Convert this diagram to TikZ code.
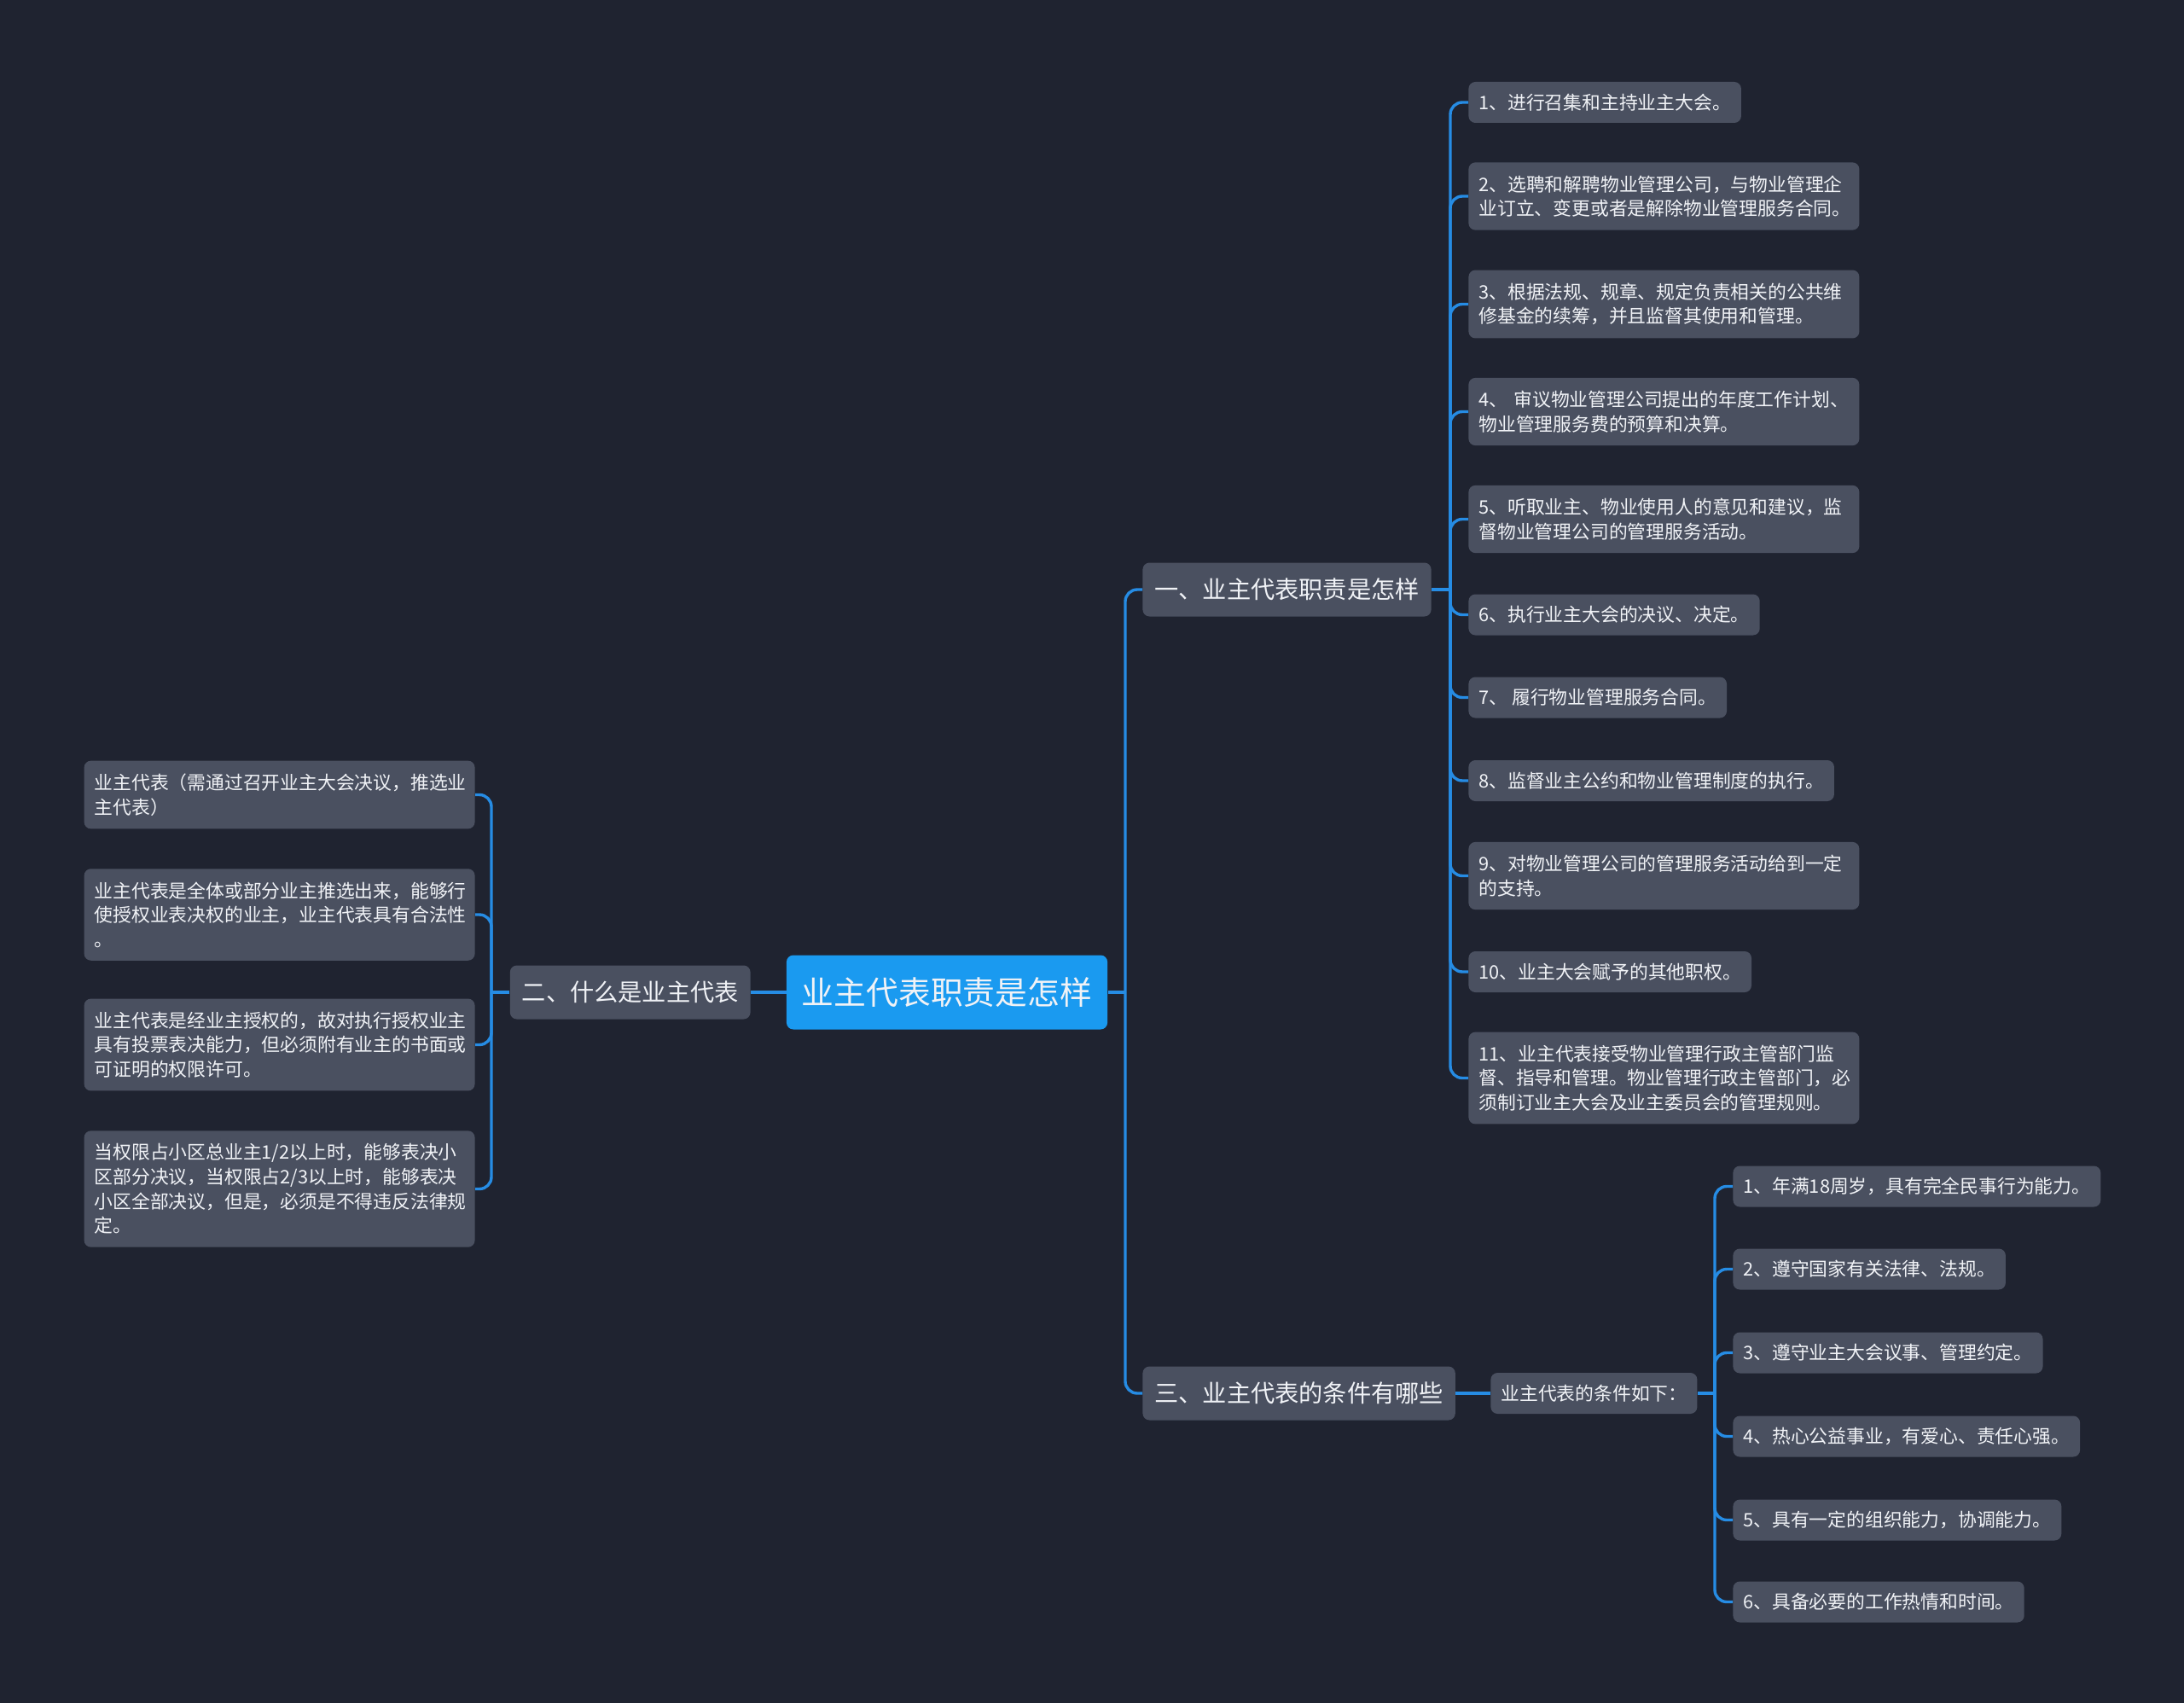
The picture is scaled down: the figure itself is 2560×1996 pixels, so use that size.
\documentclass[tikz,border=0pt]{standalone}
\usepackage{fontspec}
\setmainfont{Noto Sans CJK SC}
\usetikzlibrary{positioning}

\definecolor{bgcol}{RGB}{31,35,48}
\definecolor{boxcol}{RGB}{74,80,96}
\definecolor{rootcol}{RGB}{26,154,240}
\definecolor{linecol}{RGB}{38,140,228}
\definecolor{txtcol}{RGB}{240,242,246}

\begin{document}
\begin{tikzpicture}[x=0.5pt, y=-0.5pt,
    box/.style={fill=boxcol, rounded corners=4pt, text=txtcol, inner xsep=6pt, inner ysep=6pt, align=left},
    item/.style={box, font=\fontsize{10.9}{14.3}\selectfont, minimum height=24pt},
    wide/.style={item, text width=217pt, inner ysep=7.6pt},
    topic/.style={box, inner xsep=7pt, font=\fontsize{14.1}{17}\selectfont, minimum height=31.5pt},
    rootbox/.style={box, fill=rootcol, inner xsep=9pt, font=\fontsize{18.9}{22}\selectfont, minimum height=43.5pt},
    link/.style={draw=linecol, line width=1.7pt, rounded corners=7pt}]
        \fill[bgcol] (0,0) rectangle (2560,1996);

        % centre and main topics
        \node[rootbox] (root) at (1110,1163) {业主代表职责是怎样};
        \node[topic, anchor=west] (one) at (1339,691) {一、业主代表职责是怎样};
        \node[topic, anchor=east] (two) at (880,1163) {二、什么是业主代表};
        \node[topic, anchor=west] (three) at (1339,1633) {三、业主代表的条件有哪些};
        \node[item, anchor=west] (cond) at (1747,1633) {业主代表的条件如下：};

        % duties
        \node[item, anchor=west] (r1) at (1721,120) {1、进行召集和主持业主大会。};
        \node[wide, anchor=west] (r2) at (1721,230) {2、选聘和解聘物业管理公司，与物业管理企\\业订立、变更或者是解除物业管理服务合同。};
        \node[wide, anchor=west] (r3) at (1721,356.5) {3、根据法规、规章、规定负责相关的公共维\\修基金的续筹，并且监督其使用和管理。};
        \node[wide, anchor=west] (r4) at (1721,482.5) {4、 审议物业管理公司提出的年度工作计划、\\物业管理服务费的预算和决算。};
        \node[wide, anchor=west] (r5) at (1721,608.5) {5、听取业主、物业使用人的意见和建议，监\\督物业管理公司的管理服务活动。};
        \node[item, anchor=west] (r6) at (1721,720.5) {6、执行业主大会的决议、决定。};
        \node[item, anchor=west] (r7) at (1721,817.5) {7、 履行物业管理服务合同。};
        \node[item, anchor=west] (r8) at (1721,915) {8、监督业主公约和物业管理制度的执行。};
        \node[wide, anchor=west] (r9) at (1721,1026.5) {9、对物业管理公司的管理服务活动给到一定\\的支持。};
        \node[item, anchor=west] (r10) at (1721,1139) {10、业主大会赋予的其他职权。};
        \node[wide, anchor=west] (r11) at (1721,1263.5) {11、业主代表接受物业管理行政主管部门监\\督、指导和管理。物业管理行政主管部门，必\\须制订业主大会及业主委员会的管理规则。};

        % what is it
        \node[wide, anchor=east] (l1) at (557,931.5) {业主代表（需通过召开业主大会决议，推选业\\主代表）};
        \node[wide, anchor=east] (l2) at (557,1072) {业主代表是全体或部分业主推选出来，能够行\\使授权业表决权的业主，业主代表具有合法性\\。};
        \node[wide, anchor=east] (l3) at (557,1224.5) {业主代表是经业主授权的，故对执行授权业主\\具有投票表决能力，但必须附有业主的书面或\\可证明的权限许可。};
        \node[wide, anchor=east] (l4) at (557,1393.5) {当权限占小区总业主1/2以上时，能够表决小\\区部分决议，当权限占2/3以上时，能够表决\\小区全部决议，但是，必须是不得违反法律规\\定。};

        % conditions
        \node[item, anchor=west] (c1) at (2031,1390.5) {1、年满18周岁，具有完全民事行为能力。};
        \node[item, anchor=west] (c2) at (2031,1487.5) {2、遵守国家有关法律、法规。};
        \node[item, anchor=west] (c3) at (2031,1585.5) {3、遵守业主大会议事、管理约定。};
        \node[item, anchor=west] (c4) at (2031,1683.5) {4、热心公益事业，有爱心、责任心强。};
        \node[item, anchor=west] (c5) at (2031,1781.5) {5、具有一定的组织能力，协调能力。};
        \node[item, anchor=west] (c6) at (2031,1877.5) {6、具备必要的工作热情和时间。};

        % junctions
        \coordinate (jr) at (1319,1163);
        \coordinate (j1) at (1700,691);
        \coordinate (j2) at (576,1163);
        \coordinate (j3) at (2010,1633);

        \draw[link] (root.east) -- (jr);
        \draw[link] (jr) |- (one.west);
        \draw[link] (jr) |- (three.west);
        \draw[link] (root.west) -- (two.east);
        \draw[link] (two.west) -- (j2);
        \draw[link] (one.east) -- (j1);
        \draw[link] (three.east) -- (cond.west);
        \draw[link] (cond.east) -- (j3);
        \foreach \n in {1,...,11}
            \draw[link] (j1) |- (r\n.west);
        \foreach \n in {1,...,4}
            \draw[link] (j2) |- (l\n.east);
        \foreach \n in {1,...,6}
            \draw[link] (j3) |- (c\n.west);
    \end{tikzpicture}
\end{document}
